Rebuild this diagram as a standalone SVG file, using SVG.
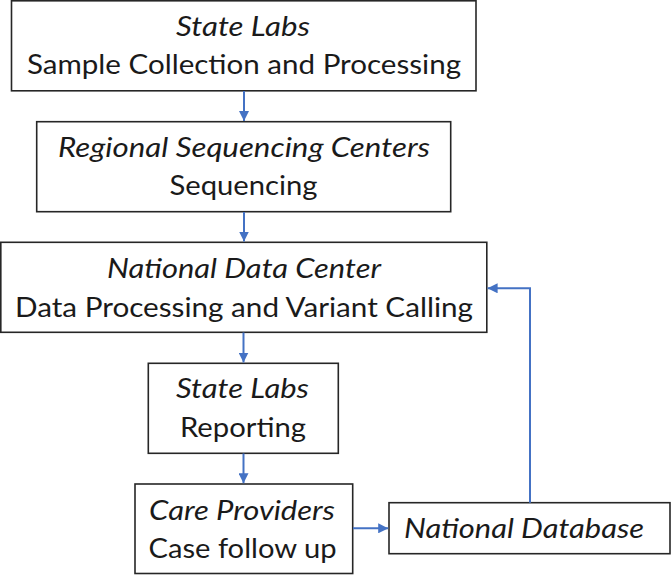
<svg xmlns="http://www.w3.org/2000/svg" width="671" height="575" viewBox="0 0 671 575">
<defs>
<style>
.box{fill:#fff;stroke:#262626;stroke-width:1.6}
.t{font-family:Lato,"Open Sans","Liberation Sans",sans-serif;font-size:27px;fill:#1a1a1a;text-anchor:middle}
.i{font-style:italic}
.c{fill:none;stroke:#4472c4;stroke-width:2}
</style>
<marker id="ah" viewBox="0 0 10 10" refX="10" refY="5" markerWidth="10" markerHeight="10" markerUnits="userSpaceOnUse" orient="auto">
<path d="M0,0 L10,5 L0,10 Z" fill="#4472c4"/>
</marker>
</defs>
<rect width="671" height="575" fill="#fff"/>
<g id="n1">
<rect class="box" x="11.5" y="0.8" width="464.5" height="90"/>
<text class="t i" x="243" y="36" textLength="134" lengthAdjust="spacingAndGlyphs">State Labs</text>
<text class="t" x="244" y="74" textLength="434" lengthAdjust="spacingAndGlyphs">Sample Collection and Processing</text>
</g>
<g id="n2">
<rect class="box" x="36.7" y="121.7" width="414" height="90"/>
<text class="t i" x="244" y="157" textLength="372" lengthAdjust="spacingAndGlyphs">Regional Sequencing Centers</text>
<text class="t" x="243.5" y="195" textLength="148" lengthAdjust="spacingAndGlyphs">Sequencing</text>
</g>
<g id="n3">
<rect class="box" x="0.8" y="242.3" width="486" height="90"/>
<text class="t i" x="244" y="278" textLength="274" lengthAdjust="spacingAndGlyphs">National Data Center</text>
<text class="t" x="244" y="317" textLength="458" lengthAdjust="spacingAndGlyphs">Data Processing and Variant Calling</text>
</g>
<g id="n4">
<rect class="box" x="148.3" y="363.3" width="190" height="90"/>
<text class="t i" x="242.5" y="398" textLength="133" lengthAdjust="spacingAndGlyphs">State Labs</text>
<text class="t" x="243" y="437" textLength="126" lengthAdjust="spacingAndGlyphs">Reporting</text>
</g>
<g id="n5">
<rect class="box" x="135" y="484" width="217.7" height="89.5"/>
<text class="t i" x="242" y="520" textLength="186" lengthAdjust="spacingAndGlyphs">Care Providers</text>
<text class="t" x="242.5" y="558" textLength="188" lengthAdjust="spacingAndGlyphs">Case follow up</text>
</g>
<g id="n6">
<rect class="box" x="389" y="502.7" width="281" height="51"/>
<text class="t i" x="524" y="538" textLength="240" lengthAdjust="spacingAndGlyphs">National Database</text>
</g>
<g id="connectors">
<line class="c" x1="244" y1="91" x2="244" y2="121" marker-end="url(#ah)"/>
<line class="c" x1="244" y1="212" x2="244" y2="241.5" marker-end="url(#ah)"/>
<line class="c" x1="243.5" y1="332.5" x2="243.5" y2="362.5" marker-end="url(#ah)"/>
<line class="c" x1="243.5" y1="453.5" x2="243.5" y2="483.2" marker-end="url(#ah)"/>
<line class="c" x1="353" y1="528.3" x2="388.2" y2="528.3" marker-end="url(#ah)"/>
<polyline class="c" points="530,502.7 530,288.3 487.6,288.3" marker-end="url(#ah)"/>
</g>
</svg>
